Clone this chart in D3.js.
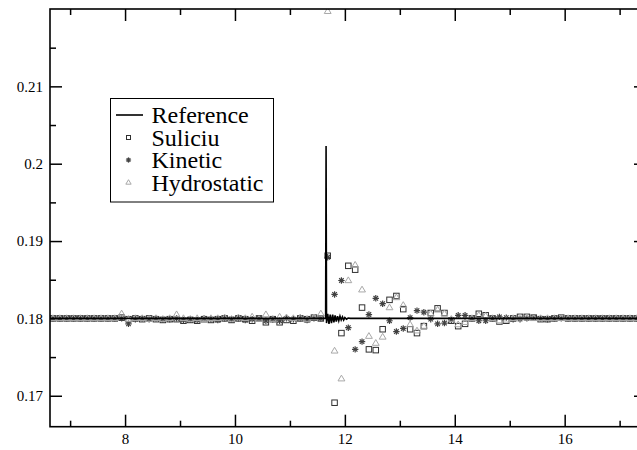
<!DOCTYPE html>
<html>
<head>
<meta charset="utf-8">
<script src="https://cdn.jsdelivr.net/npm/d3@7"></script>
<style>
  body { margin: 0; background: #fff; }
</style>
</head>
<body>
<svg id="chart" width="637" height="450"></svg>
<script>
// cell centres of the coarse schemes
const xs = [
  6.6875, 6.8125, 6.9375, 7.0625, 7.1875, 7.3125, 7.4375, 7.5625, 7.6875, 7.8125,
  7.9375, 8.0625, 8.1875, 8.3125, 8.4375, 8.5625, 8.6875, 8.8125, 8.9375, 9.0625,
  9.1875, 9.3125, 9.4375, 9.5625, 9.6875, 9.8125, 9.9375, 10.0625, 10.1875, 10.3125,
  10.4375, 10.5625, 10.6875, 10.8125, 10.9375, 11.0625, 11.1875, 11.3125, 11.4375, 11.5625,
  11.6875, 11.8125, 11.9375, 12.0625, 12.1875, 12.3125, 12.4375, 12.5625, 12.6875, 12.8125,
  12.9375, 13.0625, 13.1875, 13.3125, 13.4375, 13.5625, 13.6875, 13.8125, 13.9375, 14.0625,
  14.1875, 14.3125, 14.4375, 14.5625, 14.6875, 14.8125, 14.9375, 15.0625, 15.1875, 15.3125,
  15.4375, 15.5625, 15.6875, 15.8125, 15.9375, 16.0625, 16.1875, 16.3125, 16.4375, 16.5625,
  16.6875, 16.8125, 16.9375, 17.0625, 17.1875, 17.3125
];

const suliciu = [
  0.1800, 0.1800, 0.1800, 0.1800, 0.1800, 0.1800, 0.1800, 0.1800, 0.1800, 0.1800,
  0.1801, 0.1799, 0.1800, 0.1799, 0.1800, 0.1799, 0.1798, 0.1799, 0.1799, 0.1797,
  0.1798, 0.1797, 0.1799, 0.1798, 0.1799, 0.1800, 0.1798, 0.1800, 0.1799, 0.1797,
  0.1800, 0.1795, 0.1799, 0.1795, 0.1798, 0.1797, 0.1800, 0.1799, 0.1801, 0.1800,
  0.1881, 0.1691, 0.1781, 0.1868, 0.1863, 0.1814, 0.1760, 0.1759, 0.1786, 0.1824,
  0.1829, 0.1812, 0.1786, 0.1781, 0.1790, 0.1807, 0.1813, 0.1807, 0.1797, 0.1790,
  0.1793, 0.1800, 0.1806, 0.1804, 0.1800, 0.1796, 0.1797, 0.1800, 0.1802, 0.1802,
  0.1801, 0.1799, 0.1799, 0.1800, 0.1801, 0.1800, 0.1800, 0.1800, 0.1800, 0.1800,
  0.1800, 0.1800, 0.1800, 0.1800, 0.1800, 0.1800
];

const kinetic = [
  0.1800, 0.1800, 0.1800, 0.1800, 0.1800, 0.1800, 0.1800, 0.1800, 0.1800, 0.1800,
  0.1800, 0.1793, 0.1799, 0.1800, 0.1799, 0.1800, 0.1799, 0.1799, 0.1800, 0.1798,
  0.1799, 0.1798, 0.1800, 0.1799, 0.1798, 0.1800, 0.1799, 0.1800, 0.1798, 0.1799,
  0.1800, 0.1797, 0.1799, 0.1797, 0.1800, 0.1799, 0.1800, 0.1798, 0.1800, 0.1800,
  0.1879, 0.1831, 0.1849, 0.1788, 0.1760, 0.1770, 0.1805, 0.1826, 0.1819, 0.1797,
  0.1783, 0.1787, 0.1801, 0.1810, 0.1808, 0.1799, 0.1793, 0.1794, 0.1798, 0.1804,
  0.1804, 0.1800, 0.1797, 0.1797, 0.1800, 0.1802, 0.1801, 0.1799, 0.1799, 0.1800,
  0.1801, 0.1800, 0.1799, 0.1800, 0.1800, 0.1800, 0.1800, 0.1800, 0.1800, 0.1800,
  0.1800, 0.1800, 0.1800, 0.1800, 0.1800, 0.1800
];

const hydrostatic = [
  0.1800, 0.1800, 0.1800, 0.1800, 0.1800, 0.1800, 0.1800, 0.1800, 0.1800, 0.1800,
  0.1806, 0.1799, 0.1800, 0.1800, 0.1799, 0.1800, 0.1799, 0.1800, 0.1805, 0.1800,
  0.1799, 0.1800, 0.1799, 0.1800, 0.1800, 0.1801, 0.1799, 0.1801, 0.1800, 0.1802,
  0.1799, 0.1805, 0.1799, 0.1802, 0.1801, 0.1800, 0.1801, 0.1799, 0.1801, 0.1806,
  0.2197, 0.1758, 0.1722, 0.1849, 0.1869, 0.1837, 0.1777, 0.1768, 0.1776, 0.1814,
  0.1827, 0.1817, 0.1792, 0.1784, 0.1790, 0.1806, 0.1811, 0.1806, 0.1799, 0.1792,
  0.1795, 0.1800, 0.1804, 0.1803, 0.1800, 0.1797, 0.1798, 0.1800, 0.1801, 0.1801,
  0.1800, 0.1800, 0.1800, 0.1800, 0.1800, 0.1800, 0.1800, 0.1800, 0.1800, 0.1800,
  0.1800, 0.1800, 0.1800, 0.1800, 0.1800, 0.1800
];

// fine reference solution
const refX = [6.5, 11.650, 11.658, 11.666, 11.688, 11.711, 11.733, 11.756, 11.778, 11.800,
  11.822, 11.844, 11.867, 11.889, 11.911, 11.933, 11.956, 11.978, 12.000, 12.030, 12.060, 12.100, 17.6];
const refY = [0.1800, 0.1800, 0.2023, 0.1794, 0.1806, 0.1793, 0.1805, 0.1794, 0.1805, 0.1795,
  0.1804, 0.1796, 0.1803, 0.1797, 0.1803, 0.1798, 0.1802, 0.1798, 0.1801, 0.1799, 0.18005, 0.1800, 0.1800];

const seriesNames = ["Reference", "Suliciu", "Kinetic", "Hydrostatic"];

const xMajor = [8, 10, 12, 14, 16];
const xMinor = [7, 9, 11, 13, 15, 17];
const yMajor = [0.17, 0.18, 0.19, 0.2, 0.21];
const yMinor = [0.175, 0.185, 0.195, 0.205, 0.215];

const serif = '"Liberation Serif", "Times New Roman", Times, serif';

const svg = d3.select("#chart");

const mLeft = 50, mRight = 646, mTop = 9, mBottom = 426.7;

const x = d3.scaleLinear().domain([6.634, 17.48]).range([mLeft, mRight]);
const y = d3.scaleLinear().domain([0.166, 0.22]).range([mBottom, mTop]);

svg.append("defs").append("clipPath").attr("id", "plot")
  .append("rect").attr("x", mLeft).attr("y", mTop)
  .attr("width", mRight - mLeft).attr("height", mBottom - mTop);

function styleAxis(g) {
  g.select(".domain").remove();
  g.selectAll("line").attr("stroke", "#000").attr("stroke-width", 1.5);
  g.selectAll("text").style("font-family", serif).style("font-size", "15px").attr("fill", "#000");
}

// inward ticks on all four sides
svg.append("g").attr("transform", `translate(0,${mBottom})`)
  .call(d3.axisBottom(x).tickValues(xMajor).tickSizeInner(-12).tickSizeOuter(0).tickPadding(7).tickFormat(d3.format("d")))
  .call(styleAxis);
svg.append("g").attr("transform", `translate(0,${mBottom})`)
  .call(d3.axisBottom(x).tickValues(xMinor).tickSizeInner(-6).tickSizeOuter(0).tickFormat(""))
  .call(styleAxis);
svg.append("g").attr("transform", `translate(0,${mTop})`)
  .call(d3.axisTop(x).tickValues(xMajor).tickSizeInner(-12).tickSizeOuter(0).tickFormat(""))
  .call(styleAxis);
svg.append("g").attr("transform", `translate(0,${mTop})`)
  .call(d3.axisTop(x).tickValues(xMinor).tickSizeInner(-6).tickSizeOuter(0).tickFormat(""))
  .call(styleAxis);

svg.append("g").attr("transform", `translate(${mLeft},0)`)
  .call(d3.axisLeft(y).tickValues(yMajor).tickSizeInner(-12).tickSizeOuter(0).tickPadding(7).tickFormat(d => String(+d.toFixed(3))))
  .call(styleAxis);
svg.append("g").attr("transform", `translate(${mLeft},0)`)
  .call(d3.axisLeft(y).tickValues(yMinor).tickSizeInner(-6).tickSizeOuter(0).tickFormat(""))
  .call(styleAxis);
svg.append("g").attr("transform", `translate(${mRight},0)`)
  .call(d3.axisRight(y).tickValues(yMajor).tickSizeInner(-12).tickSizeOuter(0).tickFormat(""))
  .call(styleAxis);
svg.append("g").attr("transform", `translate(${mRight},0)`)
  .call(d3.axisRight(y).tickValues(yMinor).tickSizeInner(-6).tickSizeOuter(0).tickFormat(""))
  .call(styleAxis);

const plot = svg.append("g").attr("clip-path", "url(#plot)");

// markers
const sqSize = 5.5;
function square(sel, cx, cy, s) {
  sel.append("rect").attr("x", cx - s / 2).attr("y", cy - s / 2).attr("width", s).attr("height", s)
    .attr("fill", "none").attr("stroke", "#303030").attr("stroke-width", 1);
}
function star(sel, cx, cy, r) {
  const g = sel.append("g").attr("transform", `translate(${cx},${cy})`)
    .attr("stroke", "#404040").attr("stroke-width", 1.2);
  [0, 45, 90, 135].forEach(a => {
    const dx = r * Math.cos(a * Math.PI / 180), dy = r * Math.sin(a * Math.PI / 180);
    g.append("line").attr("x1", -dx).attr("y1", -dy).attr("x2", dx).attr("y2", dy);
  });
}
function triangle(sel, cx, cy, r) {
  sel.append("path")
    .attr("d", `M${cx},${cy - r}L${cx + r * 0.95},${cy + r * 0.6}L${cx - r * 0.95},${cy + r * 0.6}Z`)
    .attr("fill", "none").attr("stroke", "#a8a8a8").attr("stroke-width", 1);
}

xs.forEach((v, i) => square(plot, x(v), y(suliciu[i]), sqSize));
xs.forEach((v, i) => star(plot, x(v), y(kinetic[i]), 3.2));
xs.forEach((v, i) => triangle(plot, x(v), y(hydrostatic[i]), 3.6));

const line = d3.line().x(d => x(d[0])).y(d => y(d[1]));
plot.append("path")
  .datum(refX.map((v, i) => [v, refY[i]]))
  .attr("d", line)
  .attr("fill", "none").attr("stroke", "#000").attr("stroke-width", 1.6);

// frame
svg.append("rect").attr("x", mLeft).attr("y", mTop)
  .attr("width", mRight - mLeft).attr("height", mBottom - mTop)
  .attr("fill", "none").attr("stroke", "#000").attr("stroke-width", 1.6);

// legend
const lg = svg.append("g");
lg.append("rect").attr("x", 110.5).attr("y", 98.5).attr("width", 163).attr("height", 103.5)
  .attr("fill", "#fff").attr("stroke", "#000").attr("stroke-width", 1);
const rowY = i => 115 + i * 22.5;
seriesNames.forEach((name, i) => {
  const cy = rowY(i);
  if (i === 0) {
    lg.append("line").attr("x1", 116).attr("x2", 143).attr("y1", cy).attr("y2", cy)
      .attr("stroke", "#000").attr("stroke-width", 1.6);
  } else if (i === 1) {
    square(lg, 128.5, cy, 4);
  } else if (i === 2) {
    star(lg, 128.5, cy, 2.6);
  } else {
    triangle(lg, 128.5, cy, 2.8);
  }
  lg.append("text").attr("x", 151.5).attr("y", cy + 8)
    .style("font-family", serif).style("font-size", "24px").attr("fill", "#000").text(name);
});
</script>
</body>
</html>
